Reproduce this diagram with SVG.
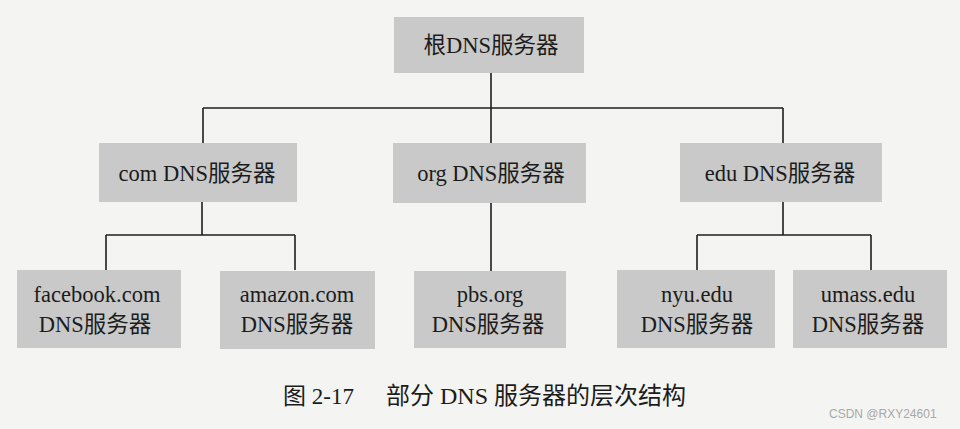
<svg xmlns="http://www.w3.org/2000/svg" width="960" height="429" viewBox="0 0 960 429">
<style>
.bg{fill:#f4f4f2}
.box{fill:#c9c9c9}
.t{font-family:"Liberation Serif","Noto Sans CJK SC",serif;font-size:22.5px;fill:#1c1c1c;text-anchor:middle}
.ln{stroke:#1e1e1e;stroke-width:1.6;fill:none}
.cap{font-family:"Liberation Serif","Noto Sans CJK SC",serif;font-size:23px;fill:#1c1c1c}
.wm{font-family:"Liberation Sans","DejaVu Sans",sans-serif;font-size:12px;fill:#a8a8a8}
</style>
<rect class="bg" x="0" y="0" width="960" height="429"/>
<g id="connectors">
<path class="ln" d="M491 73V108M203 108H783M203 108V143M491 108V143M783 108V143"/>
<path class="ln" d="M202 202V235M106 235H295M106 235V270M295 235V270"/>
<path class="ln" d="M491 203V271"/>
<path class="ln" d="M783 202V235M697 235H871M697 235V270M871 235V270"/>
</g>
<g id="root"><rect class="box" x="394" y="17" width="190" height="56"/><text class="t" x="491" y="53">根DNS服务器</text></g>
<g id="com"><rect class="box" x="99" y="143" width="198" height="59"/><text class="t" x="197" y="181">com DNS服务器</text></g>
<g id="org"><rect class="box" x="393" y="143" width="193" height="60"/><text class="t" x="491" y="181">org DNS服务器</text></g>
<g id="edu"><rect class="box" x="680" y="143" width="202" height="59"/><text class="t" x="780" y="181">edu DNS服务器</text></g>
<g id="facebook"><rect class="box" x="17" y="270" width="164" height="78"/><text class="t" x="97" y="302">facebook.com</text><text class="t" x="95" y="332">DNS服务器</text></g>
<g id="amazon"><rect class="box" x="220" y="271" width="155" height="78"/><text class="t" x="297" y="302">amazon.com</text><text class="t" x="297" y="332">DNS服务器</text></g>
<g id="pbs"><rect class="box" x="414" y="271" width="152" height="77"/><text class="t" x="490" y="302">pbs.org</text><text class="t" x="488" y="332">DNS服务器</text></g>
<g id="nyu"><rect class="box" x="617" y="270" width="158" height="78"/><text class="t" x="697" y="302">nyu.edu</text><text class="t" x="697" y="332">DNS服务器</text></g>
<g id="umass"><rect class="box" x="793" y="270" width="154" height="78"/><text class="t" x="868" y="302">umass.edu</text><text class="t" x="868" y="332">DNS服务器</text></g>
<g id="caption">
<text class="cap" x="283" y="404">图 2-17</text>
<text class="cap" x="386" y="404" style="font-size:24px">部分 DNS 服务器的层次结构</text>
</g>
<text class="wm" x="829" y="418">CSDN @RXY24601</text>
</svg>
